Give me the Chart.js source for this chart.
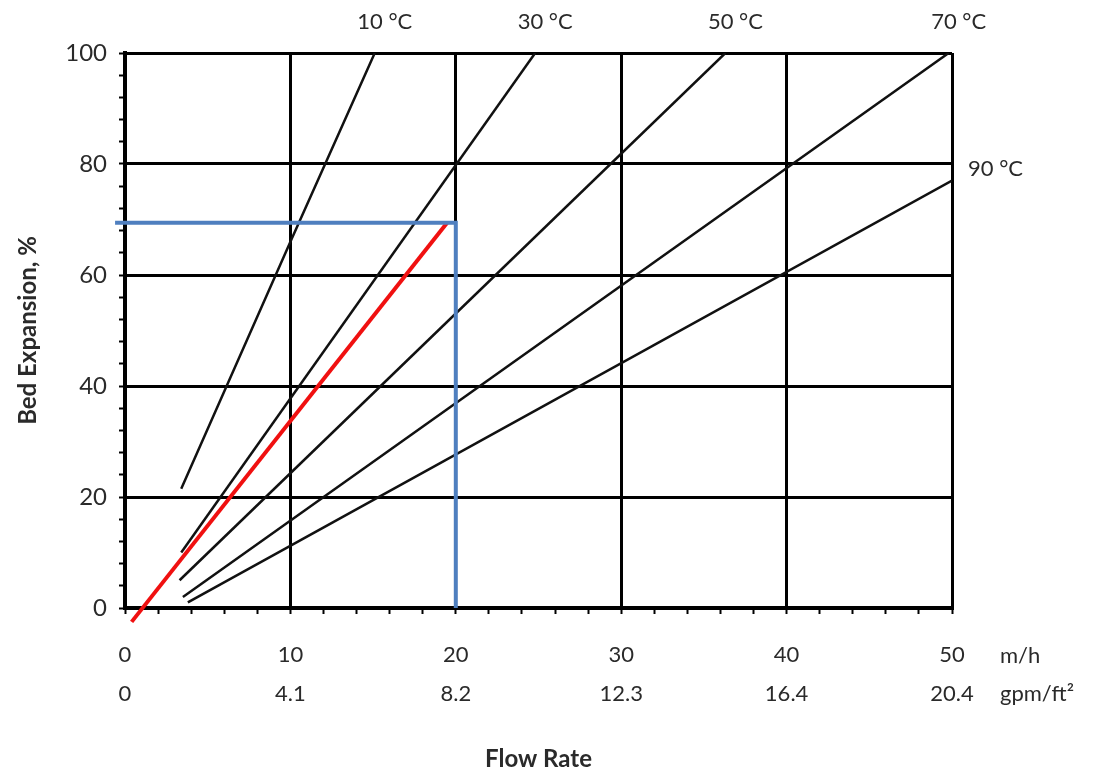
<!DOCTYPE html>
<html>
<head>
<meta charset="utf-8">
<script src="https://cdn.jsdelivr.net/npm/chart.js@4.4.1/dist/chart.umd.min.js"></script>
<style>
  html, body { margin: 0; padding: 0; background: #fff; }
  #wrap { width: 1100px; height: 780px; }
</style>
</head>
<body>
<div id="wrap"><canvas id="chart"></canvas></div>
<script>
// flow rate (m/h) vs bed expansion (%)
const tempLabels = ['10 °C', '30 °C', '50 °C', '70 °C', '90 °C'];
const flow10 = [3.4, 10, 15.1];
const exp10 = [21.5, 66, 100];
const flow30 = [3.4, 24.8];
const exp30 = [10, 100];
const flow50 = [3.3, 36.3];
const exp50 = [5, 100];
const flow70 = [3.5, 49.8];
const exp70 = [2, 100];
const flow90 = [3.8, 50];
const exp90 = [1, 77];

// design point lines
const flowRed = [0.4, 19.5];
const expRed = [-2.5, 69.5];
const flowBlue = [-0.6, 20, 20];
const expBlue = [69.4, 69.4, 0];

// tick labels
const tickMh = [0, 10, 20, 30, 40, 50];
const tickGpm = ['0', '4.1', '8.2', '12.3', '16.4', '20.4'];
const tickPct = [0, 20, 40, 60, 80, 100];

const FONT = 'Lato, "Open Sans", sans-serif';
const INK = '#2a2a2a';

function pts(xs, ys) {
    return xs.map(function (x, i) { return { x: x, y: ys[i] }; });
}

function tempSet(label, xs, ys, side) {
    return {
        label: label,
        data: pts(xs, ys),
        borderColor: '#111',
        borderWidth: 2.5,
        pointRadius: 0,
        showLine: true,
        tag: label,
        tagSide: side
    };
}

// writes the temperature next to the end of each curve
const tagPlugin = {
    id: 'tags',
    afterDatasetsDraw(chart) {
        const ctx = chart.ctx;
        ctx.save();
        ctx.fillStyle = INK;
        ctx.font = '22px ' + FONT;
        chart.data.datasets.forEach(function (ds, i) {
            if (!ds.tag) return;
            const pts = chart.getDatasetMeta(i).data;
            const p = pts[pts.length - 1];
            if (ds.tagSide === 'right') {
                ctx.textAlign = 'left';
                ctx.textBaseline = 'middle';
                ctx.fillText(ds.tag, p.x + 16, p.y - 12);
            } else {
                ctx.textAlign = 'center';
                ctx.textBaseline = 'middle';
                ctx.fillText(ds.tag, p.x + 10, chart.chartArea.top - 31);
            }
        });
        // units beside the x tick labels
        const xs = chart.scales.x;
        const ux = xs.getPixelForValue(50) + 48;
        ctx.textAlign = 'left';
        ctx.textBaseline = 'middle';
        ctx.fillText('m/h', ux, xs.top + 48);
        ctx.fillText('gpm/ft²', ux, xs.top + 86);
        ctx.restore();
    }
};

document.addEventListener('DOMContentLoaded', function () {
    const canvas = document.getElementById('chart').getContext('2d');
    new Chart(canvas, {
        type: 'scatter',
        data: {
            datasets: [
                {
                    label: 'design',
                    data: pts(flowBlue, expBlue),
                    borderColor: '#4f7fbf',
                    borderWidth: 4,
                    pointRadius: 0,
                    showLine: true,
                    clip: false
                },
                {
                    label: 'operating',
                    data: pts(flowRed, expRed),
                    borderColor: '#f01010',
                    borderWidth: 4,
                    pointRadius: 0,
                    showLine: true,
                    clip: false
                },
                tempSet(tempLabels[0], flow10, exp10, 'top'),
                tempSet(tempLabels[1], flow30, exp30, 'top'),
                tempSet(tempLabels[2], flow50, exp50, 'top'),
                tempSet(tempLabels[3], flow70, exp70, 'top'),
                tempSet(tempLabels[4], flow90, exp90, 'right')
            ]
        },
        options: {
            responsive: true,
            maintainAspectRatio: false,
            animation: false,
            layout: { padding: { top: 53, right: 148, left: 0, bottom: 0 } },
            plugins: {
                legend: { display: false },
                tooltip: { enabled: false }
            },
            scales: {
                x: {
                    type: 'linear',
                    min: 0,
                    max: 50,
                    afterFit: function (s) { s.height = 172; },
                    border: { color: '#000', width: 4 },
                    grid: {
                        color: function (c) {
                            return c.tick && c.tick.value % 10 === 0 ? '#000' : 'rgba(0,0,0,0)';
                        },
                        lineWidth: 3,
                        tickColor: '#000',
                        tickWidth: 2,
                        tickLength: 6
                    },
                    ticks: {
                        stepSize: 2,
                        autoSkip: false,
                        maxRotation: 0,
                        padding: 22,
                        color: INK,
                        font: { family: FONT, size: 22, lineHeight: 1.75 },
                        callback: function (v) {
                            const i = tickMh.indexOf(v);
                            return i < 0 ? '' : [String(v), tickGpm[i]];
                        }
                    },
                    title: {
                        display: true,
                        text: 'Flow Rate',
                        color: INK,
                        font: { family: FONT, size: 24, weight: 'bold' },
                        padding: { top: 0, bottom: 6 }
                    }
                },
                y: {
                    type: 'linear',
                    min: 0,
                    max: 100,
                    afterFit: function (s) { s.width = 125; },
                    border: { color: '#000', width: 4 },
                    grid: {
                        color: function (c) {
                            return c.tick && c.tick.value % 20 === 0 ? '#000' : 'rgba(0,0,0,0)';
                        },
                        lineWidth: 3,
                        tickColor: '#000',
                        tickWidth: 2,
                        tickLength: 6
                    },
                    ticks: {
                        stepSize: 4,
                        autoSkip: false,
                        padding: 12,
                        color: INK,
                        font: { family: FONT, size: 24 },
                        callback: function (v) {
                            return tickPct.indexOf(v) < 0 ? '' : String(v);
                        }
                    },
                    title: {
                        display: true,
                        text: 'Bed Expansion, %',
                        color: INK,
                        font: { family: FONT, size: 24, weight: 'bold' },
                        padding: { top: 14, bottom: 0 }
                    }
                }
            }
        },
        plugins: [tagPlugin]
    });
});
</script>
</body>
</html>
